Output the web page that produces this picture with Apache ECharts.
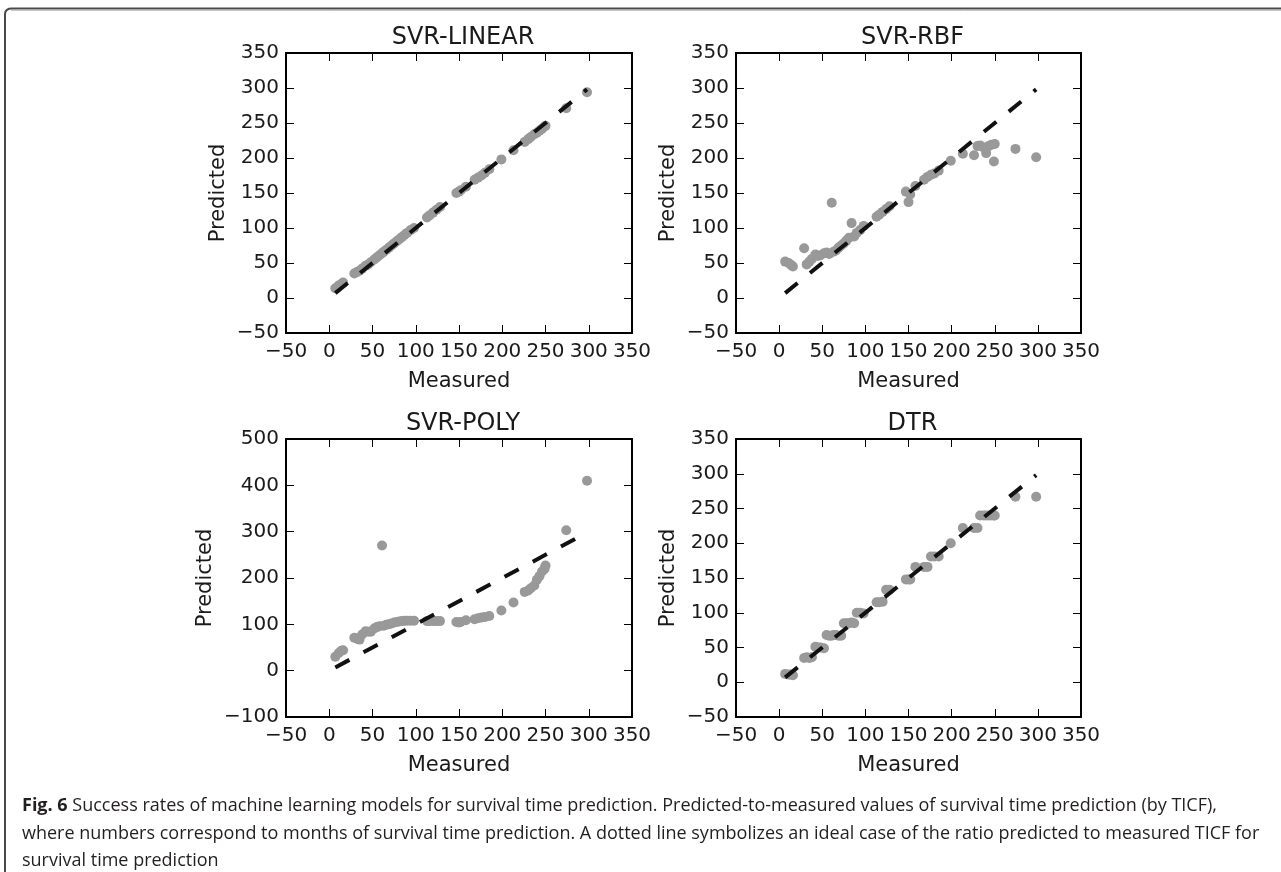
<!DOCTYPE html>
<html>
<head>
<meta charset="utf-8">
<title>Fig. 6</title>
<script src="https://cdn.jsdelivr.net/npm/echarts@6/dist/echarts.min.js"></script>
<style>
html,body{margin:0;padding:0;background:#fff;}
#myChart{width:1281px;height:872px;}
</style>
</head>
<body>
<div id="myChart"></div>
<script>
// measured survival time (months), shared by all four models
var measured = [7, 11, 14, 16, 29, 32, 35, 38, 42, 45, 48, 52, 55, 58, 61, 63, 66, 69, 72, 75, 78, 81, 84, 87, 90, 94, 98,
    113, 116, 120, 124, 128, 147, 150, 152, 158, 168, 172, 176, 180, 185, 199, 213,
    226, 230, 233, 237, 240, 243, 246, 249, 250, 274, 298];
// predicted values per model
var predLinear = [14, 18, 20, 22, 35, 37, 39, 42, 46, 48, 51, 55, 58, 61, 64, 66, 69, 72, 75, 78, 81, 84, 87, 90, 93, 97, 100,
    115, 118, 122, 126, 130, 150, 152, 154, 159, 169, 172, 175, 179, 184, 198, 211,
    223, 227, 230, 234, 236, 239, 242, 245, 246, 271, 294];
var predRbf = [52, 50, 47, 45, 71, 48, 52, 56, 62, 60, 61, 64, 65, 63, 136, 66, 68, 72, 75, 78, 82, 86, 107, 88, 93, 97, 103,
    116, 119, 123, 127, 131, 152, 137, 148, 160, 169, 173, 176, 178, 182, 196, 206,
    204, 217, 218, 215, 207, 217, 219, 195, 220, 213, 201];
var predPoly = [30, 38, 43, 44, 71, 69, 67, 78, 85, 84, 84, 91, 94, 96, 270, 97, 99, 100, 102, 104, 105, 106, 107, 108, 108, 108, 108,
    107, 107, 107, 107, 107, 105, 104, 105, 109, 111, 113, 115, 116, 118, 130, 147,
    170, 173, 178, 184, 196, 204, 214, 220, 227, 303, 410];
var predDtr = [12, 11, 11, 10, 35, 36, 35, 36, 51, 50, 50, 49, 68, 67, 67, 68, 68, 67, 67, 85, 85, 85, 86, 85, 100, 100, 99,
    115, 115, 116, 133, 133, 148, 148, 148, 166, 166, 166, 181, 181, 181, 200, 222,
    222, 222, 240, 240, 240, 240, 240, 240, 240, 267, 267];
// ideal line y = x, start and end
var idealEnds = [7, 298];
var panelTitles = ['SVR-LINEAR', 'SVR-RBF', 'SVR-POLY', 'DTR'];
// axis ticks: min, max, interval
var xTicks = [-50, 350, 50];
var yTicksStd = [-50, 350, 50];
var yTicksPoly = [-100, 500, 100];

var captionLines = [
    ' Success rates of machine learning models for survival time prediction. Predicted-to-measured values of survival time prediction (by TICF),',
    'where numbers correspond to months of survival time prediction. A dotted line symbolizes an ideal case of the ratio predicted to measured TICF for',
    'survival time prediction'
];

var panels = [
    {title: panelTitles[0], pred: predLinear, y: yTicksStd, left: 286, top: 53, width: 346, height: 280, yGap: 57},
    {title: panelTitles[1], pred: predRbf, y: yTicksStd, left: 736, top: 53, width: 345, height: 280, yGap: 57},
    {title: panelTitles[2], pred: predPoly, y: yTicksPoly, left: 286, top: 439, width: 346, height: 278, yGap: 70},
    {title: panelTitles[3], pred: predDtr, y: yTicksStd, left: 736, top: 439, width: 345, height: 278, yGap: 57}
];

var tickFont = 'DejaVu Sans';
function minus(v){ return String(v).replace('-', '\u2212'); }

var grids = [], xAxes = [], yAxes = [], series = [], graphics = [];

panels.forEach(function(p, i){
    grids.push({left: p.left, top: p.top, width: p.width, height: p.height, containLabel: false});
    var line = {show: true, onZero: false, lineStyle: {color: '#000', width: 2}};
    var tick = {show: true, inside: true, length: 8, lineStyle: {color: '#000', width: 1}};
    // bottom / top
    xAxes.push({
        gridIndex: i, type: 'value', position: 'bottom',
        min: xTicks[0], max: xTicks[1], interval: xTicks[2],
        axisLine: line, axisTick: tick, splitLine: {show: false},
        axisLabel: {fontFamily: tickFont, fontSize: 20, color: '#1a1a1a', margin: 9, formatter: minus},
        name: 'Measured', nameLocation: 'middle', nameGap: 38,
        nameTextStyle: {fontFamily: tickFont, fontSize: 21, color: '#1a1a1a'}
    });
    xAxes.push({
        gridIndex: i, type: 'value', position: 'top',
        min: xTicks[0], max: xTicks[1], interval: xTicks[2],
        axisLine: line, axisTick: tick, splitLine: {show: false}, axisLabel: {show: false}
    });
    // left / right
    yAxes.push({
        gridIndex: i, type: 'value', position: 'left',
        min: p.y[0], max: p.y[1], interval: p.y[2],
        axisLine: line, axisTick: tick, splitLine: {show: false},
        axisLabel: {fontFamily: tickFont, fontSize: 20, color: '#1a1a1a', margin: 7, formatter: minus},
        name: 'Predicted', nameLocation: 'middle', nameGap: p.yGap,
        nameTextStyle: {fontFamily: tickFont, fontSize: 21, color: '#1a1a1a'}
    });
    yAxes.push({
        gridIndex: i, type: 'value', position: 'right',
        min: p.y[0], max: p.y[1], interval: p.y[2],
        axisLine: line, axisTick: tick, splitLine: {show: false}, axisLabel: {show: false}
    });

    series.push({
        type: 'scatter', xAxisIndex: 2 * i, yAxisIndex: 2 * i,
        symbolSize: 10, itemStyle: {color: '#999999', opacity: 1},
        data: measured.map(function(m, k){ return [m, p.pred[k]]; }),
        silent: true, z: 2
    });
    series.push({
        type: 'line', xAxisIndex: 2 * i, yAxisIndex: 2 * i,
        symbol: 'none', silent: true, z: 3,
        lineStyle: {color: '#111', width: 4, type: [16, 16], cap: 'butt'},
        data: [[idealEnds[0], idealEnds[0]], [idealEnds[1], idealEnds[1]]]
    });

    graphics.push({
        type: 'text', x: p.left + p.width / 2 + 4, y: p.top - 15,
        style: {text: p.title, font: '24px "DejaVu Sans"', fill: '#1a1a1a',
            align: 'center', verticalAlign: 'middle', textAlign: 'center', textVerticalAlign: 'middle'}
    });
});

// outer frame of the figure (left edge + top edge with a rounded corner)
graphics.push({
    type: 'polyline',
    shape: {points: [[5, 872], [5, 14], [5.5, 11.5], [7, 9.8], [9, 8.8], [11.5, 8.5], [1281, 8.5]]},
    style: {fill: null, stroke: '#4a4a4a', lineWidth: 2}
});
graphics.push({
    type: 'line', shape: {x1: 11, y1: 10.5, x2: 1281, y2: 10.5},
    style: {stroke: '#c8c8c8', lineWidth: 1}
});

// caption
var capY = [806, 834, 861];
captionLines.forEach(function(t, k){
    graphics.push({
        type: 'text', x: 22, y: capY[k],
        style: {
            text: (k === 0 ? '{b|Fig. 6}' : '') + t,
            font: '18px "Open Sans"', fill: '#231f20',
            verticalAlign: 'middle', textVerticalAlign: 'middle',
            rich: {b: {fontFamily: 'Open Sans', fontWeight: 'bold', fontSize: 18, fill: '#231f20', color: '#231f20'}}
        }
    });
});

var myChart = echarts.init(document.getElementById('myChart'), null, {renderer: 'canvas'});
var options = {
    backgroundColor: '#fff',
    animation: false,
    grid: grids,
    xAxis: xAxes,
    yAxis: yAxes,
    series: series,
    graphic: {elements: graphics}
};
myChart.setOption(options);
</script>
</body>
</html>
